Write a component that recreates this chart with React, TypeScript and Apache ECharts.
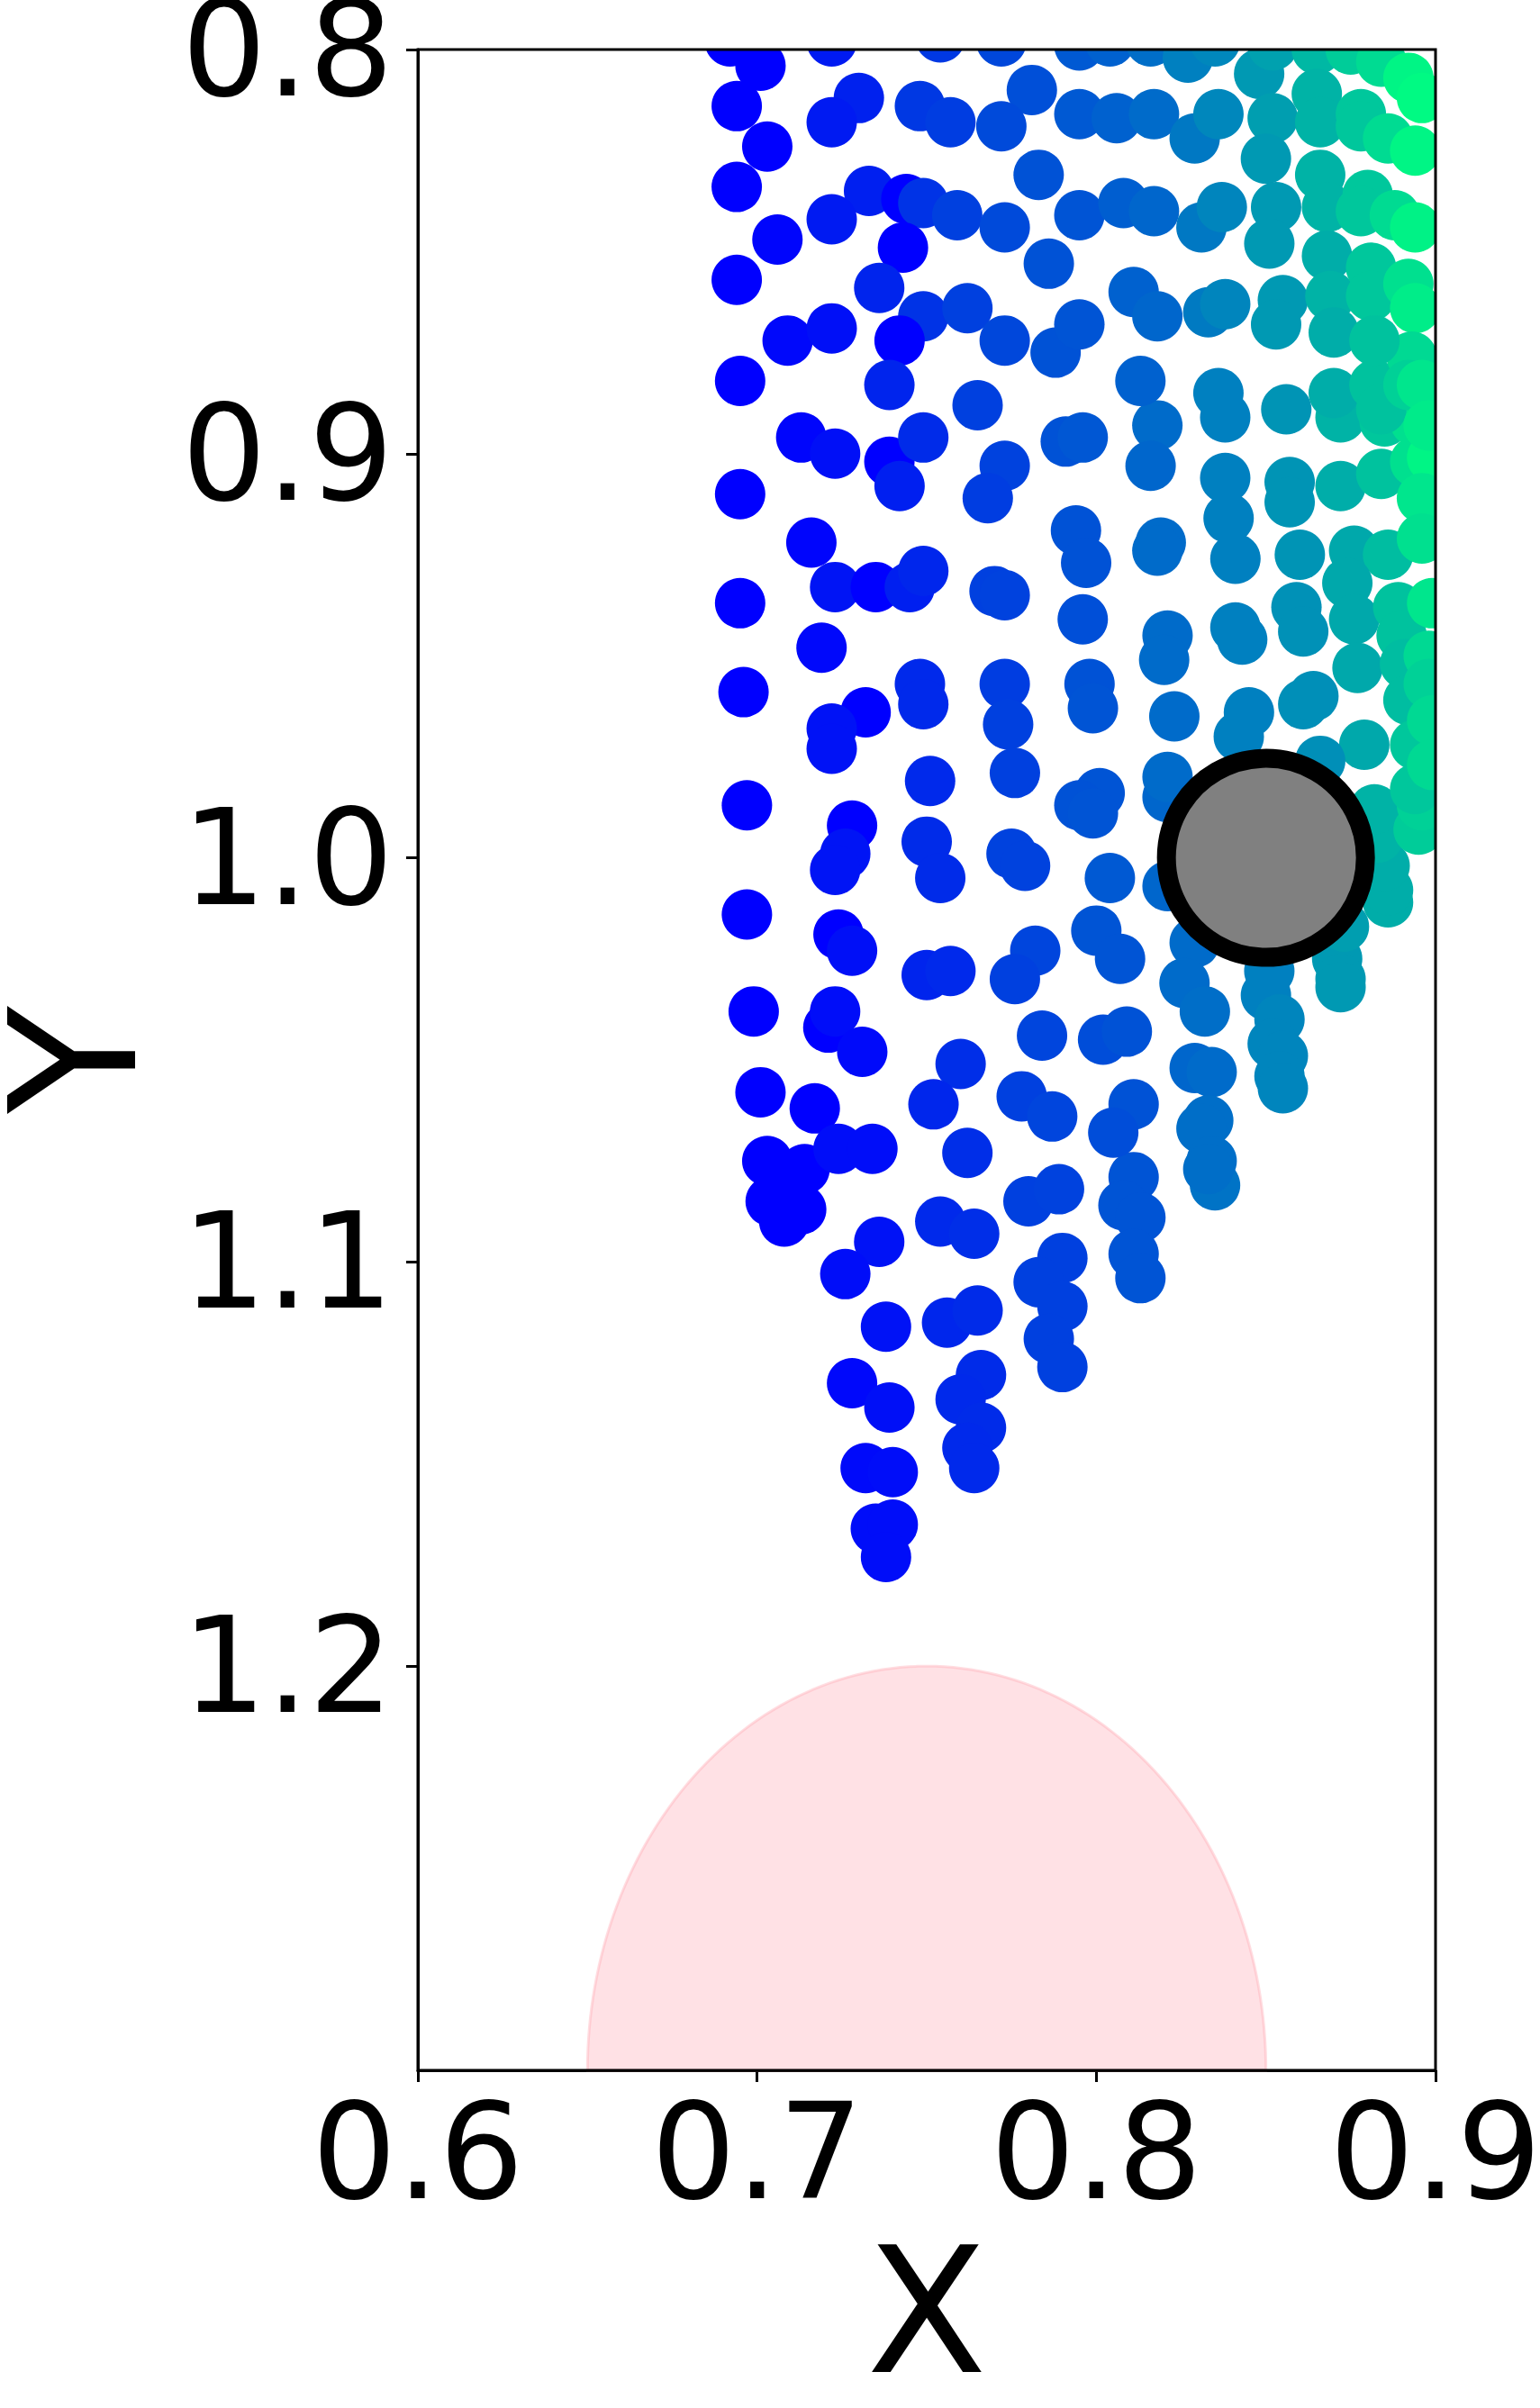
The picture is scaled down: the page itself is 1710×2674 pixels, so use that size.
import { useEffect, useRef } from "react";
import * as echarts from "echarts";

const xTicks = [0.6, 0.7, 0.8, 0.9];
const yTicks = [0.8, 0.9, 1.0, 1.1, 1.2];
const xRange = [0.6, 0.9];
const yRange = [0.8, 1.3];
const xName = "X";
const yName = "Y";

// particles: [x, y, colour value (0 = blue ... 1 = green, "winter")]
const particles = [
  [0.692, 0.798, 0], [0.701, 0.804, 0], [0.722, 0.798, 0.1], [0.754, 0.797, 0.22], [0.772, 0.798, 0.28],
  [0.694, 0.814, 0], [0.730, 0.812, 0.13], [0.722, 0.818, 0.1], [0.748, 0.814, 0.22], [0.757, 0.818, 0.24],
  [0.781, 0.810, 0.31], [0.772, 0.819, 0.29], [0.703, 0.824, 0], [0.694, 0.834, 0], [0.733, 0.835, 0.12],
  [0.744, 0.837, 0], [0.749, 0.838, 0.2], [0.722, 0.842, 0.1], [0.759, 0.841, 0.25], [0.773, 0.844, 0.29],
  [0.783, 0.831, 0.32], [0.706, 0.847, 0.02], [0.743, 0.849, 0], [0.786, 0.853, 0.32], [0.694, 0.857, 0],
  [0.736, 0.859, 0.14], [0.749, 0.866, 0.2], [0.762, 0.864, 0.25], [0.773, 0.872, 0.28], [0.788, 0.875, 0.32],
  [0.709, 0.872, 0.03], [0.722, 0.869, 0.06], [0.742, 0.872, 0], [0.695, 0.882, 0], [0.739, 0.883, 0.14],
  [0.765, 0.888, 0.25], [0.713, 0.896, 0.02], [0.723, 0.900, 0.06], [0.739, 0.902, 0], [0.749, 0.896, 0.17],
  [0.742, 0.908, 0.12], [0.773, 0.903, 0.26], [0.768, 0.911, 0.24], [0.791, 0.897, 0.32], [0.796, 0.896, 0.34],
  [0.695, 0.910, 0], [0.716, 0.922, 0.02], [0.794, 0.919, 0.32], [0.797, 0.927, 0.32], [0.723, 0.933, 0.08],
  [0.735, 0.933, 0], [0.745, 0.933, 0.12], [0.749, 0.929, 0.15], [0.770, 0.934, 0.25], [0.773, 0.935, 0.26],
  [0.695, 0.937, 0], [0.796, 0.941, 0.31], [0.719, 0.948, 0.03], [0.748, 0.957, 0.16], [0.749, 0.962, 0.16],
  [0.773, 0.957, 0.24], [0.774, 0.967, 0.25], [0.798, 0.957, 0.32], [0.799, 0.963, 0.33], [0.696, 0.959, 0],
  [0.732, 0.964, 0], [0.722, 0.968, 0.07], [0.722, 0.973, 0.07], [0.751, 0.981, 0.16], [0.776, 0.979, 0.25],
  [0.697, 0.987, 0], [0.801, 0.984, 0.33], [0.795, 0.987, 0.32], [0.728, 0.992, 0], [0.726, 0.999, 0.08],
  [0.723, 1.003, 0.08], [0.750, 0.996, 0.17], [0.754, 1.005, 0.17], [0.775, 0.999, 0.26], [0.779, 1.002, 0.26],
  [0.799, 0.989, 0.33], [0.697, 1.014, 0], [0.724, 1.019, 0], [0.728, 1.023, 0.06], [0.750, 1.029, 0.14],
  [0.757, 1.028, 0.16], [0.782, 1.023, 0.27], [0.776, 1.030, 0.25], [0.804, 1.005, 0.35], [0.699, 1.038, 0],
  [0.721, 1.042, 0], [0.723, 1.038, 0.05], [0.731, 1.048, 0.04], [0.784, 1.044, 0.27], [0.760, 1.051, 0.18],
  [0.701, 1.058, 0], [0.717, 1.062, 0], [0.752, 1.061, 0.15], [0.778, 1.059, 0.25], [0.787, 1.064, 0.27],
  [0.703, 1.075, 0], [0.714, 1.077, 0], [0.724, 1.072, 0.05], [0.734, 1.072, 0.05], [0.762, 1.073, 0.18],
  [0.704, 1.085, 0], [0.708, 1.090, 0], [0.713, 1.087, 0], [0.736, 1.095, 0.07], [0.726, 1.103, 0.05],
  [0.754, 1.090, 0.16], [0.764, 1.093, 0.18], [0.780, 1.085, 0.25], [0.789, 1.082, 0.26], [0.790, 1.099, 0.25],
  [0.783, 1.105, 0.25], [0.790, 1.111, 0.25], [0.786, 1.119, 0.25], [0.790, 1.126, 0.25], [0.738, 1.116, 0.07],
  [0.756, 1.115, 0.15], [0.765, 1.112, 0.17], [0.728, 1.130, 0.03], [0.739, 1.136, 0.06], [0.766, 1.128, 0.17],
  [0.760, 1.134, 0.16], [0.766, 1.141, 0.17], [0.762, 1.146, 0.16], [0.764, 1.151, 0.16], [0.732, 1.151, 0.04],
  [0.740, 1.152, 0.05], [0.735, 1.166, 0.05], [0.740, 1.165, 0.05], [0.738, 1.173, 0.05],
  [0.811, 1.079, 0.33], [0.808, 1.086, 0.33], [0.813, 1.089, 0.33], [0.811, 1.098, 0.33], [0.813, 1.104, 0.33],
  [0.835, 1.081, 0.45], [0.821, 0.985, 0.4], [0.821, 1.007, 0.4], [0.800, 1.018, 0.33], [0.807, 1.025, 0.33],
  [0.829, 1.021, 0.42], [0.826, 1.031, 0.42], [0.832, 1.038, 0.43], [0.851, 1.028, 0.5], [0.850, 1.034, 0.5],
  [0.854, 1.040, 0.52], [0.852, 1.046, 0.52], [0.855, 1.049, 0.52], [0.854, 1.054, 0.52], [0.855, 1.057, 0.52],
  [0.871, 1.025, 0.6], [0.872, 1.030, 0.6], [0.872, 1.032, 0.6], [0.873, 1.017, 0.62], [0.886, 1.011, 0.68],
  [0.886, 1.008, 0.68], [0.885, 1.002, 0.68], [0.883, 0.995, 0.7], [0.882, 0.988, 0.7], [0.895, 0.993, 0.8],
  [0.896, 0.987, 0.82], [0.802, 1.045, 0.3], [0.809, 1.043, 0.32], [0.829, 1.052, 0.4], [0.834, 1.053, 0.42],
  [0.811, 1.061, 0.32], [0.805, 1.068, 0.3], [0.833, 1.065, 0.43], [0.831, 1.067, 0.43], [0.834, 1.075, 0.43],
  [0.833, 1.077, 0.43],
  [0.818, 0.893, 0.42], [0.816, 0.903, 0.4], [0.838, 0.891, 0.5], [0.856, 0.889, 0.58], [0.872, 0.891, 0.7],
  [0.885, 0.892, 0.78], [0.894, 0.892, 0.88], [0.838, 0.906, 0.5], [0.839, 0.916, 0.5], [0.841, 0.926, 0.5],
  [0.857, 0.907, 0.58], [0.857, 0.912, 0.58], [0.872, 0.908, 0.68], [0.884, 0.905, 0.76], [0.894, 0.902, 0.88],
  [0.899, 0.901, 0.96], [0.896, 0.911, 0.9], [0.819, 0.922, 0.42], [0.818, 0.924, 0.42], [0.860, 0.925, 0.58],
  [0.876, 0.924, 0.66], [0.886, 0.925, 0.74], [0.896, 0.921, 0.88], [0.874, 0.932, 0.66], [0.859, 0.938, 0.57],
  [0.861, 0.944, 0.57], [0.876, 0.941, 0.66], [0.889, 0.938, 0.76], [0.890, 0.945, 0.76], [0.899, 0.937, 0.9],
  [0.821, 0.945, 0.42], [0.820, 0.951, 0.42], [0.841, 0.943, 0.5], [0.843, 0.946, 0.5], [0.877, 0.953, 0.66],
  [0.891, 0.952, 0.74], [0.898, 0.950, 0.85], [0.823, 0.965, 0.42], [0.845, 0.964, 0.5], [0.842, 0.970, 0.5],
  [0.861, 0.962, 0.56], [0.864, 0.960, 0.56], [0.879, 0.972, 0.66], [0.892, 0.961, 0.74], [0.898, 0.957, 0.82],
  [0.894, 0.972, 0.78], [0.866, 0.976, 0.56], [0.821, 0.980, 0.42], [0.894, 0.983, 0.78], [0.899, 0.966, 0.85],
  [0.899, 0.977, 0.85],
  [0.795, 0.799, 0.35], [0.804, 0.798, 0.38], [0.816, 0.798, 0.43], [0.827, 0.802, 0.5], [0.835, 0.798, 0.53],
  [0.848, 0.806, 0.6], [0.852, 0.799, 0.63], [0.865, 0.800, 0.72], [0.875, 0.800, 0.8], [0.884, 0.803, 0.86],
  [0.892, 0.807, 0.96], [0.896, 0.812, 0.98], [0.795, 0.816, 0.35], [0.806, 0.817, 0.38], [0.817, 0.816, 0.42],
  [0.829, 0.822, 0.47], [0.836, 0.816, 0.53], [0.852, 0.817, 0.62], [0.865, 0.811, 0.7], [0.866, 0.818, 0.7],
  [0.878, 0.816, 0.78], [0.878, 0.819, 0.78], [0.886, 0.822, 0.86], [0.894, 0.825, 0.96], [0.850, 0.827, 0.6],
  [0.866, 0.831, 0.7], [0.795, 0.841, 0.33], [0.808, 0.838, 0.37], [0.817, 0.840, 0.4], [0.831, 0.844, 0.47],
  [0.837, 0.839, 0.52], [0.853, 0.839, 0.6], [0.851, 0.848, 0.6], [0.868, 0.839, 0.7], [0.868, 0.851, 0.68],
  [0.880, 0.836, 0.78], [0.878, 0.840, 0.78], [0.888, 0.841, 0.86], [0.894, 0.844, 0.95], [0.811, 0.860, 0.38],
  [0.818, 0.866, 0.4], [0.833, 0.865, 0.48], [0.838, 0.863, 0.52], [0.855, 0.862, 0.6], [0.853, 0.868, 0.6],
  [0.869, 0.861, 0.7], [0.870, 0.870, 0.68], [0.881, 0.854, 0.78], [0.881, 0.861, 0.78], [0.892, 0.858, 0.88],
  [0.894, 0.864, 0.93], [0.795, 0.868, 0.33], [0.813, 0.882, 0.38], [0.836, 0.885, 0.5], [0.870, 0.885, 0.68],
  [0.882, 0.883, 0.76], [0.884, 0.889, 0.76], [0.893, 0.876, 0.85], [0.892, 0.883, 0.82], [0.896, 0.883, 0.9],
  [0.882, 0.872, 0.76], [0.898, 0.893, 0.92],
];

// large grey obstacle marker
const obstacle = [[0.85, 1.0]];
// pink target region: [centre x, centre y, radius]
const target = [[0.75, 1.3, 0.1]];

export default function App() {
  const ref = useRef<HTMLDivElement>(null);
  useEffect(() => {
    document.body.style.margin = "0";
    const chart = echarts.init(ref.current!, null, { renderer: "svg" });
    const font = "DejaVu Sans";
    const tickFont = 148;
    const nameFont = 195;
    chart.setOption({
      animation: false,
      backgroundColor: "#ffffff",
      grid: {
        left: 464,
        top: 55,
        right: 116,
        bottom: 375,
        show: false,
        containLabel: false,
        outerBoundsMode: "none",
      },
      xAxis: {
        type: "value",
        min: xRange[0],
        max: xRange[1],
        interval: 0.1,
        name: xName,
        nameLocation: "middle",
        nameGap: 162,
        nameTextStyle: { fontFamily: font, fontSize: nameFont, color: "#000" },
        axisLine: { show: true, lineStyle: { color: "#000", width: 3 } },
        axisTick: { show: true, inside: false, length: 13, lineStyle: { color: "#000", width: 3 }, customValues: xTicks },
        axisLabel: {
          fontFamily: font,
          fontSize: tickFont,
          color: "#000",
          margin: 17,
          customValues: xTicks,
          formatter: (v: number) => v.toFixed(1),
        },
        splitLine: { show: false },
      },
      yAxis: {
        type: "value",
        inverse: true,
        min: yRange[0],
        max: yRange[1],
        interval: 0.1,
        name: yName,
        nameLocation: "middle",
        nameGap: 284,
        nameTextStyle: { fontFamily: font, fontSize: nameFont, color: "#000" },
        axisLine: { show: true, lineStyle: { color: "#000", width: 3 } },
        axisTick: { show: true, inside: false, length: 13, lineStyle: { color: "#000", width: 3 }, customValues: yTicks },
        axisLabel: {
          fontFamily: font,
          fontSize: tickFont,
          color: "#000",
          margin: 27,
          customValues: yTicks,
          formatter: (v: number) => v.toFixed(1),
        },
        splitLine: { show: false },
      },
      visualMap: {
        show: false,
        type: "continuous",
        min: 0,
        max: 1,
        dimension: 2,
        seriesIndex: 1,
        inRange: { color: ["#0000ff", "#00ff80"] },
      },
      series: [
        {
          type: "custom",
          data: target,
          encode: { x: 0, y: 1 },
          z: 1,
          silent: true,
          renderItem: (_p: any, api: any) => {
            const cx = api.value(0);
            const cy = api.value(1);
            const r = api.value(2);
            const pts: number[][] = [];
            for (let i = 0; i <= 120; i++) {
              const t = (Math.PI * i) / 120;
              pts.push(api.coord([cx + r * Math.cos(t), cy - r * Math.sin(t)]));
            }
            return {
              type: "polygon",
              shape: { points: pts },
              style: { fill: "rgba(255,196,204,0.5)", stroke: "rgba(255,170,180,0.4)", lineWidth: 3 },
            };
          },
        },
        {
          type: "custom",
          data: particles,
          encode: { x: 0, y: 1 },
          clip: true,
          z: 2,
          renderItem: (_p: any, api: any) => {
            const c = api.coord([api.value(0), api.value(1)]);
            return {
              type: "circle",
              shape: { cx: c[0], cy: c[1], r: 28 },
              style: { fill: api.visual("color") },
            };
          },
        },
        {
          type: "scatter",
          data: obstacle,
          symbol: "circle",
          symbolSize: 221,
          z: 3,
          itemStyle: { color: "#808080", borderColor: "#000000", borderWidth: 21, opacity: 1 },
        },
      ],
      graphic: [
        {
          type: "rect",
          silent: true,
          z: 100,
          shape: { x: 464, y: 55, width: 1130, height: 2244 },
          style: { fill: "none", stroke: "#000", lineWidth: 3 },
        },
      ],
    });
    return () => chart.dispose();
  }, []);
  return <div ref={ref} style={{ width: 1710, height: 2674 }} />;
}
